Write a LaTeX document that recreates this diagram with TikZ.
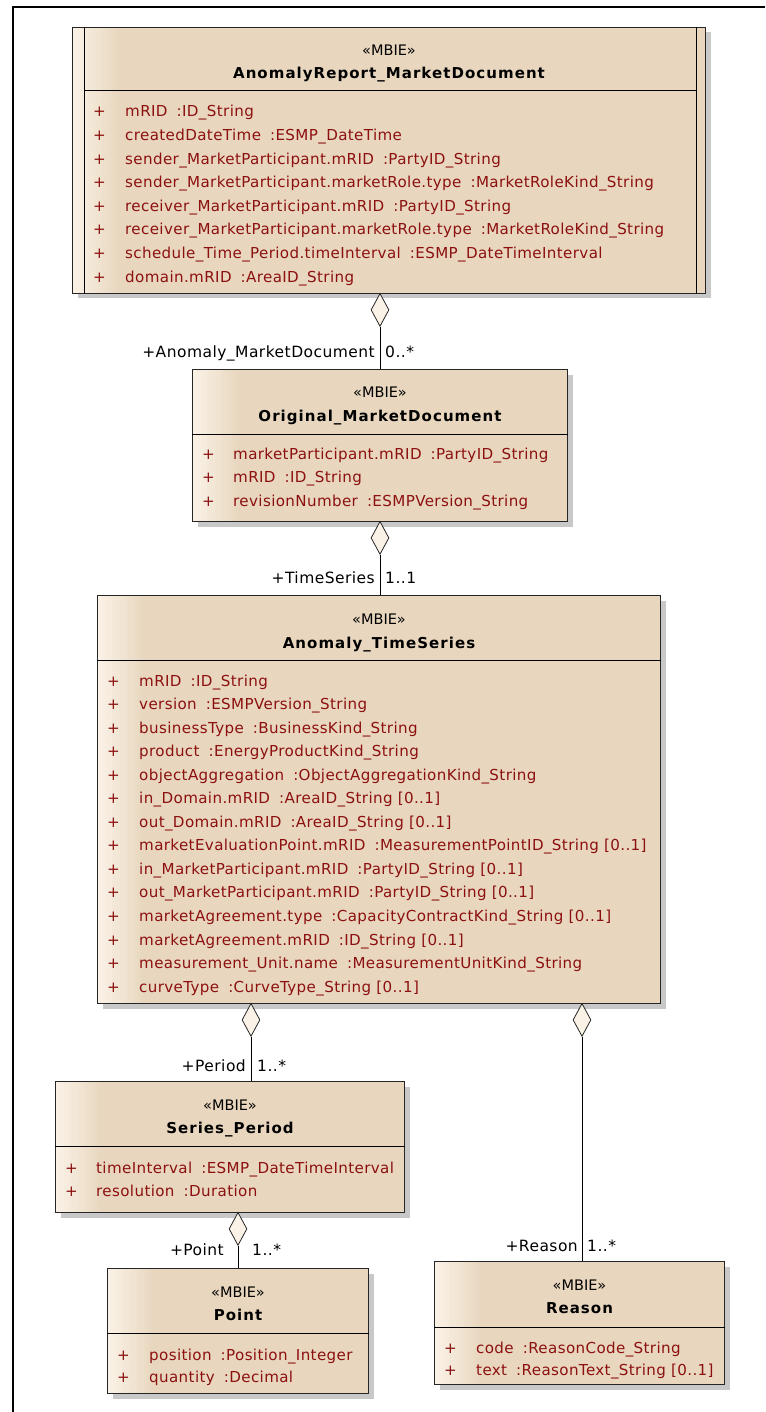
\documentclass[tikz,border=0pt]{standalone}
\usepackage{fontspec}
\setmainfont{DejaVu Sans}
\usepackage{tikz}
\usetikzlibrary{shapes.geometric,shadows,calc}

\definecolor{umlfill}{RGB}{232,215,190}
\definecolor{umllight}{RGB}{250,242,230}
\definecolor{umlred}{RGB}{140,16,16}
\definecolor{umlshadow}{RGB}{200,200,200}
\newcommand{\col}{\hspace{.6em}:}

\tikzset{
  classbox/.style={rectangle, draw=black!85, line width=1pt, fill=umlfill, anchor=north west, inner sep=0pt,
    drop shadow={shadow xshift=5pt, shadow yshift=-5pt, opacity=1, fill=umlshadow},
    path picture={\foreach \k in {0,...,15}{\pgfmathtruncatemacro{\m}{100-\k*100/16}
      \fill[umllight!\m!umlfill] ([xshift=\k*2.8pt]path picture bounding box.north west) rectangle ([xshift=\k*2.8pt+3.2pt]path picture bounding box.south west);}}},
  stereo/.style={anchor=base, inner sep=0pt, font=\fontsize{14.5}{16}\selectfont},
  classname/.style={anchor=base, inner sep=0pt, font=\fontsize{15}{18}\selectfont\bfseries\addfontfeature{LetterSpace=7}},
  attr/.style={anchor=base west, inner sep=0pt, text=umlred, font=\fontsize{15.1}{18}\selectfont\addfontfeature{LetterSpace=2.5}},
  aggr/.style={diamond, draw=black!85, line width=0.8pt, fill=umllight, anchor=north, inner sep=0pt, minimum width=18pt, minimum height=33pt},
  role/.style={inner sep=0pt, font=\fontsize{15.5}{18}\selectfont\addfontfeature{LetterSpace=3}},
}

\begin{document}
\begin{tikzpicture}[x=1pt,y=-1pt]
  \useasboundingbox (0,0) rectangle (765,1412); % 画像全体の大きさ
  \draw[line width=2pt] (13,1412) -- (13,7.5) -- (765,7.5); % 外枠（上と左）

  % AnomalyReport_MarketDocument
  \node[classbox, minimum width=633pt, minimum height=266pt] (report) at (72,27) {}; % 文書クラスの箱
  \draw[line width=1pt] ([xshift=12pt]report.north west) -- ([xshift=12pt]report.south west); % 左の縦線
  \draw[line width=1pt] ([xshift=-10pt]report.north east) -- ([xshift=-10pt]report.south east); % 右の縦線
  \draw[line width=1pt] ([xshift=12pt,yshift=-64pt]report.north west) -- ([xshift=-10pt,yshift=-64pt]report.north east); % 見出しの区切り
  \node[stereo] (report-st) at ([yshift=-28.5pt]report.north) {«MBIE»}; % ステレオタイプ
  \node[classname] (report-nm) at ([yshift=-52pt]report.north) {AnomalyReport\_MarketDocument}; % クラス名
  \foreach \t [count=\i from 0] in {{mRID\col ID\_String},{createdDateTime\col ESMP\_DateTime},
      {sender\_MarketParticipant.mRID\col PartyID\_String},{sender\_MarketParticipant.marketRole.type\col MarketRoleKind\_String},
      {receiver\_MarketParticipant.mRID\col PartyID\_String},{receiver\_MarketParticipant.marketRole.type\col MarketRoleKind\_String},
      {schedule\_Time\_Period.timeInterval\col ESMP\_DateTimeInterval},{domain.mRID\col AreaID\_String}}{
    \node[attr] (report-p\i) at ([xshift=21pt,yshift=-90pt-\i*23.6pt]report.north west) {+}; % 可視性
    \node[attr] (report-a\i) at ([xshift=53pt,yshift=-90pt-\i*23.6pt]report.north west) {\t}; % 属性
  }

  % Original_MarketDocument
  \node[classbox, minimum width=375pt, minimum height=152pt] (orig) at (192,369) {}; % 元文書クラスの箱
  \draw[line width=1pt] ([yshift=-65pt]orig.north west) -- ([yshift=-65pt]orig.north east); % 見出しの区切り
  \node[stereo] (orig-st) at ([yshift=-28.5pt]orig.north) {«MBIE»}; % ステレオタイプ
  \node[classname] (orig-nm) at ([yshift=-52.5pt]orig.north) {Original\_MarketDocument}; % クラス名
  \foreach \t [count=\i from 0] in {{marketParticipant.mRID\col PartyID\_String},{mRID\col ID\_String},
      {revisionNumber\col ESMPVersion\_String}}{
    \node[attr] (orig-p\i) at ([xshift=10pt,yshift=-90pt-\i*23.6pt]orig.north west) {+}; % 可視性
    \node[attr] (orig-a\i) at ([xshift=41pt,yshift=-90pt-\i*23.6pt]orig.north west) {\t}; % 属性
  }

  % Anomaly_TimeSeries
  \node[classbox, minimum width=563pt, minimum height=408pt] (ts) at (97,595) {}; % 時系列クラスの箱
  \draw[line width=1pt] ([yshift=-65pt]ts.north west) -- ([yshift=-65pt]ts.north east); % 見出しの区切り
  \node[stereo] (ts-st) at ([yshift=-29pt]ts.north) {«MBIE»}; % ステレオタイプ
  \node[classname] (ts-nm) at ([yshift=-53pt]ts.north) {Anomaly\_TimeSeries}; % クラス名
  \foreach \t [count=\i from 0] in {{mRID\col ID\_String},{version\col ESMPVersion\_String},
      {businessType\col BusinessKind\_String},{product\col EnergyProductKind\_String},
      {objectAggregation\col ObjectAggregationKind\_String},{in\_Domain.mRID\col AreaID\_String [0..1]},
      {out\_Domain.mRID\col AreaID\_String [0..1]},{marketEvaluationPoint.mRID\col MeasurementPointID\_String [0..1]},
      {in\_MarketParticipant.mRID\col PartyID\_String [0..1]},{out\_MarketParticipant.mRID\col PartyID\_String [0..1]},
      {marketAgreement.type\col CapacityContractKind\_String [0..1]},{marketAgreement.mRID\col ID\_String [0..1]},
      {measurement\_Unit.name\col MeasurementUnitKind\_String},{curveType\col CurveType\_String [0..1]}}{
    \node[attr] (ts-p\i) at ([xshift=10pt,yshift=-91pt-\i*23.55pt]ts.north west) {+}; % 可視性
    \node[attr] (ts-a\i) at ([xshift=42pt,yshift=-91pt-\i*23.55pt]ts.north west) {\t}; % 属性
  }

  % Series_Period
  \node[classbox, minimum width=349pt, minimum height=131pt] (period) at (55,1081) {}; % 期間クラスの箱
  \draw[line width=1pt] ([yshift=-65pt]period.north west) -- ([yshift=-65pt]period.north east); % 見出しの区切り
  \node[stereo] (period-st) at ([yshift=-29pt]period.north) {«MBIE»}; % ステレオタイプ
  \node[classname] (period-nm) at ([yshift=-52.5pt]period.north) {Series\_Period}; % クラス名
  \foreach \t [count=\i from 0] in {{timeInterval\col ESMP\_DateTimeInterval},{resolution\col Duration}}{
    \node[attr] (period-p\i) at ([xshift=10pt,yshift=-92pt-\i*23pt]period.north west) {+}; % 可視性
    \node[attr] (period-a\i) at ([xshift=41pt,yshift=-92pt-\i*23pt]period.north west) {\t}; % 属性
  }

  % Point
  \node[classbox, minimum width=261pt, minimum height=125pt] (point) at (107,1268) {}; % 点クラスの箱
  \draw[line width=1pt] ([yshift=-65pt]point.north west) -- ([yshift=-65pt]point.north east); % 見出しの区切り
  \node[stereo] (point-st) at ([yshift=-29pt]point.north) {«MBIE»}; % ステレオタイプ
  \node[classname] (point-nm) at ([yshift=-52.5pt]point.north) {Point}; % クラス名
  \foreach \t [count=\i from 0] in {{position\col Position\_Integer},{quantity\col Decimal}}{
    \node[attr] (point-p\i) at ([xshift=10pt,yshift=-92pt-\i*22.5pt]point.north west) {+}; % 可視性
    \node[attr] (point-a\i) at ([xshift=42pt,yshift=-92pt-\i*22.5pt]point.north west) {\t}; % 属性
  }

  % Reason
  \node[classbox, minimum width=290pt, minimum height=123pt] (reason) at (434,1261) {}; % 理由クラスの箱
  \draw[line width=1pt] ([yshift=-66pt]reason.north west) -- ([yshift=-66pt]reason.north east); % 見出しの区切り
  \node[stereo] (reason-st) at ([yshift=-29pt]reason.north) {«MBIE»}; % ステレオタイプ
  \node[classname] (reason-nm) at ([yshift=-52.5pt]reason.north) {Reason}; % クラス名
  \foreach \t [count=\i from 0] in {{code\col ReasonCode\_String},{text\col ReasonText\_String [0..1]}}{
    \node[attr] (reason-p\i) at ([xshift=10pt,yshift=-92pt-\i*22.5pt]reason.north west) {+}; % 可視性
    \node[attr] (reason-a\i) at ([xshift=42pt,yshift=-92pt-\i*22.5pt]reason.north west) {\t}; % 属性
  }

  % 集約（ひし形）と線
  \node[aggr] (agg-orig) at (380,293) {}; % 文書→元文書
  \node[aggr] (agg-ts) at (380,521) {}; % 元文書→時系列
  \node[aggr] (agg-period) at (251,1003) {}; % 時系列→期間
  \node[aggr] (agg-reason) at (582,1003) {}; % 時系列→理由
  \node[aggr] (agg-point) at (238,1212) {}; % 期間→点
  \draw[line width=0.8pt] (agg-orig.south) -- (agg-orig.south |- orig.north); % 集約の線
  \draw[line width=0.8pt] (agg-ts.south) -- (agg-ts.south |- ts.north); % 集約の線
  \draw[line width=0.8pt] (agg-period.south) -- (agg-period.south |- period.north); % 集約の線
  \draw[line width=0.8pt] (agg-reason.south) -- (agg-reason.south |- reason.north); % 集約の線
  \draw[line width=0.8pt] (agg-point.south) -- (agg-point.south |- point.north); % 集約の線

  % ロール名と多重度
  \node[role, anchor=base east] (r-orig) at (375,357) {+Anomaly\_MarketDocument}; % ロール名
  \node[role, anchor=base west] (m-orig) at (385,357) {0..*}; % 多重度
  \node[role, anchor=base east] (r-ts) at (375,583) {+TimeSeries}; % ロール名
  \node[role, anchor=base west] (m-ts) at (385,583) {1..1}; % 多重度
  \node[role, anchor=base east] (r-period) at (246,1071) {+Period}; % ロール名
  \node[role, anchor=base west] (m-period) at (257,1071) {1..*}; % 多重度
  \node[role, anchor=base east] (r-point) at (224,1255) {+Point}; % ロール名
  \node[role, anchor=base west] (m-point) at (252,1255) {1..*}; % 多重度
  \node[role, anchor=base east] (r-reason) at (578,1251) {+Reason}; % ロール名
  \node[role, anchor=base west] (m-reason) at (587,1251) {1..*}; % 多重度
\end{tikzpicture}
\end{document}
